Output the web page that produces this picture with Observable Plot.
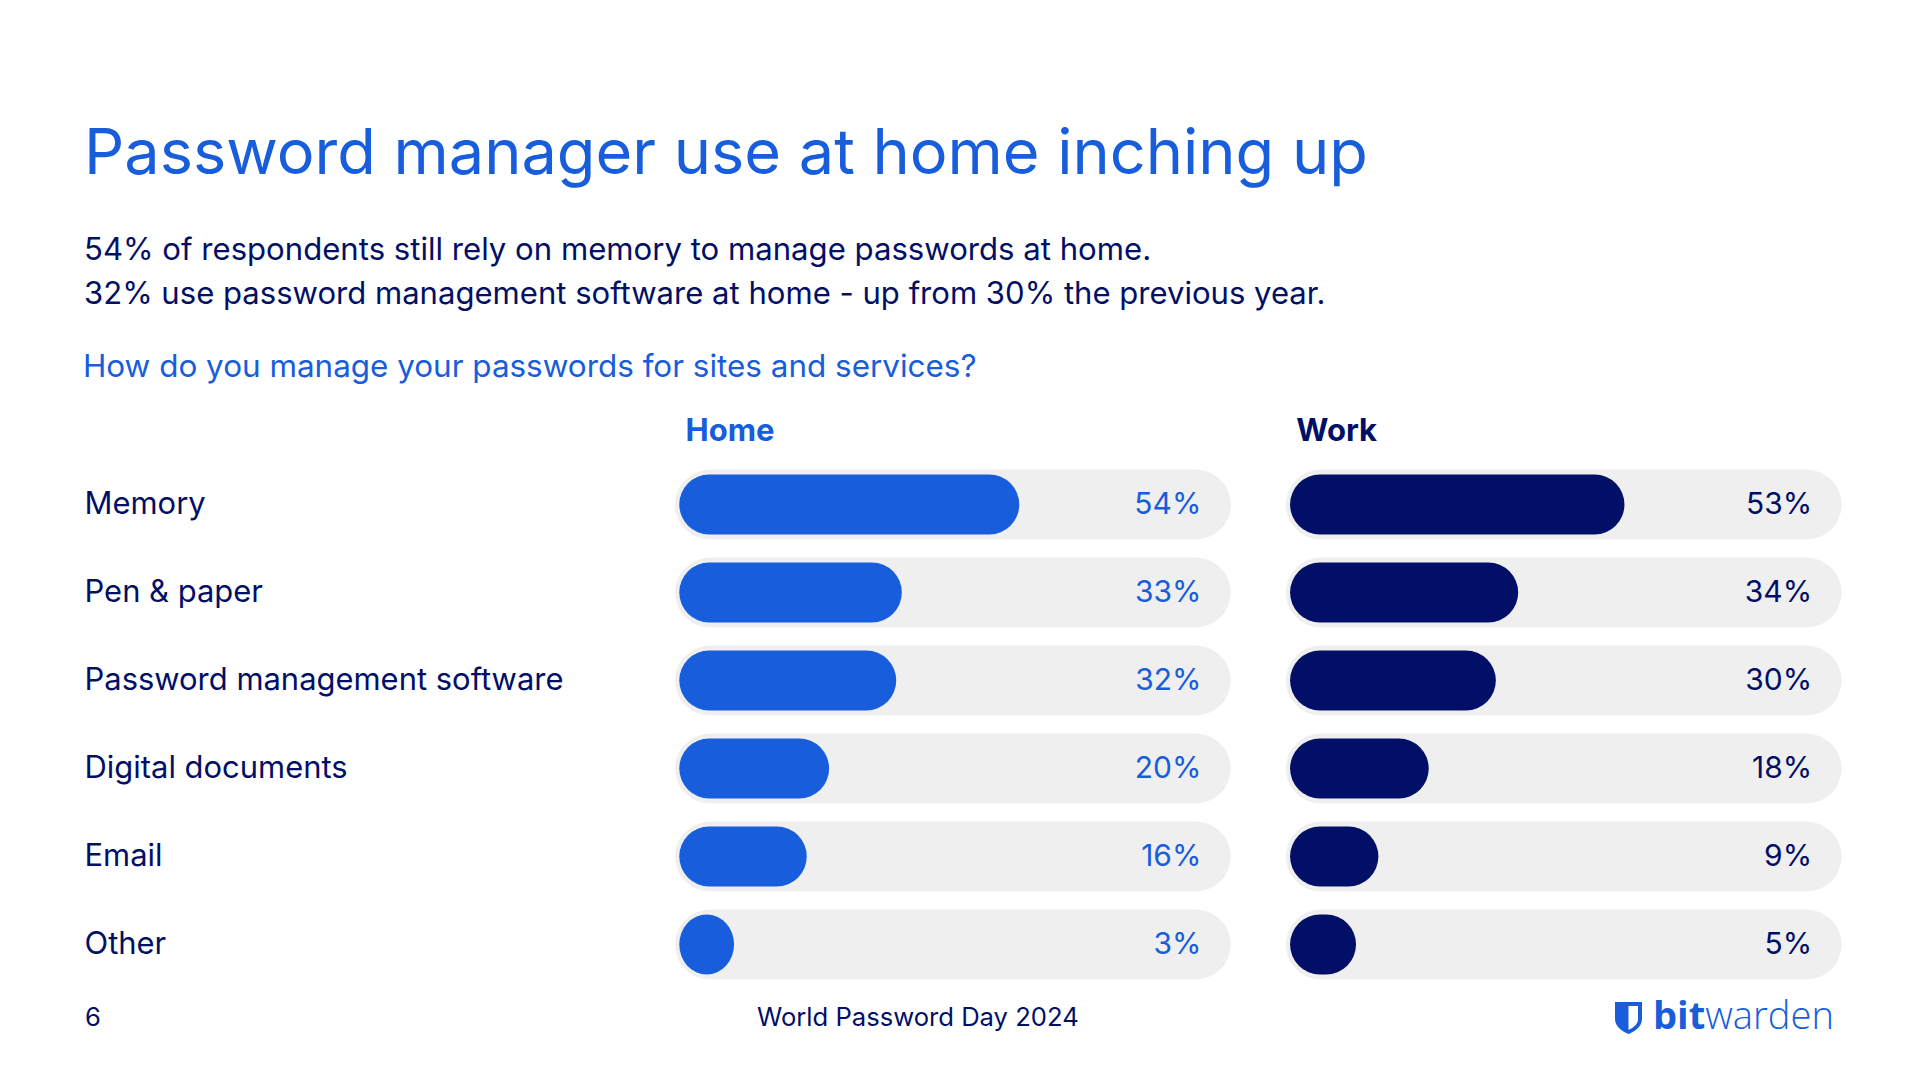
<!DOCTYPE html>
<html>
<head>
<meta charset="utf-8">
<script src="https://cdn.jsdelivr.net/npm/d3@7"></script>
<script src="https://cdn.jsdelivr.net/npm/@observablehq/plot@0.6"></script>
<style>
  html, body { margin: 0; padding: 0; background: #fff; }
  body { width: 1920px; height: 1080px; position: relative; overflow: hidden; font-family: Inter, "Noto Sans", sans-serif; }
  .t { position: absolute; white-space: nowrap; line-height: 1; }
  #chart { position: absolute; left: 0; top: 400px; }
</style>
</head>
<body>
<div id="title" class="t" style="color:#175DDC;font-weight:400;">Password manager use at home inching up</div>
<div id="sub1" class="t" style="color:#020F66;">54% of respondents still rely on memory to manage passwords at home.</div>
<div id="sub2" class="t" style="color:#020F66;">32% use password management software at home - up from 30% the previous year.</div>
<div id="question" class="t" style="color:#175DDC;">How do you manage your passwords for sites and services?</div>
<div id="chart"></div>
<div id="pagenum" class="t" style="color:#020F66;">6</div>
<div id="footer" class="t" style="color:#020F66;">World Password Day 2024</div>
<svg id="shield" width="27" height="32" viewBox="0 0 27 32" style="position:absolute;left:1615px;top:1002px;">
  <path d="M0,0 H27 V17 C27,24.5 19.5,29.5 13.5,32 C7.5,29.5 0,24.5 0,17 Z" fill="#175DDC"/>
  <path d="M13.5,4 H23 V17 C23,22.3 18.5,25.6 13.5,27.8 Z" fill="#ffffff"/>
</svg>
<div id="logo" class="t" style="color:#175DDC;font-family:'Open Sans',sans-serif;"><span style="font-weight:700">bit</span><span style="font-weight:300">warden</span></div>

<script>
// ---- data ----
const categories = ["Memory", "Pen & paper", "Password management software", "Digital documents", "Email", "Other"];
const groups = ["Home", "Work"];
const homeValues = [54, 33, 32, 20, 16, 3];
const workValues = [53, 34, 30, 18, 9, 5];

const rows = groups.flatMap(g =>
  categories.map((c, i) => ({group: g, category: c, value: (g === "Home" ? homeValues : workValues)[i]}))
);

// ---- helpers ----
function place(id, x, baseline, width, fontSize) {
  const el = document.getElementById(id);
  el.style.left = x + "px";
  el.style.top = "0px";
  if (width) {
    el.style.fontSize = "100px";
    const w = el.getBoundingClientRect().width;
    el.style.fontSize = (100 * width / w) + "px";
  } else {
    el.style.fontSize = fontSize + "px";
  }
  const m = document.createElement("span");
  m.style.cssText = "display:inline-block;width:0;height:0;vertical-align:baseline";
  el.appendChild(m);
  const b = m.getBoundingClientRect().top - el.getBoundingClientRect().top;
  el.style.top = (baseline - b) + "px";
  return parseFloat(el.style.fontSize);
}
function fitSize(text, weight, target, family) {
  const ctx = document.createElement("canvas").getContext("2d");
  ctx.font = `${weight} 100px ${family || "Inter"}`;
  return 100 * target / ctx.measureText(text).width;
}

place("title", 84, 174, 1284);
place("sub1", 84, 260, 1068);
place("sub2", 84, 304, 1242);
place("question", 83, 377, 894);
const fsFoot = place("footer", 757, 1026, 322);
place("pagenum", 85, 1026, null, fsFoot);
place("logo", 1653, 1029, 181);

// ---- chart ----
const rowFont = fitSize("Password management software", 400, 479);
const valueFont = fitSize("54%", 400, 67);
const headFont = fitSize("Home", 700, 89);

const chart = Plot.plot({
  width: 1920,
  height: 600,
  marginLeft: 675,
  marginRight: 78.4,
  marginTop: 69.5,
  marginBottom: 20.5,
  style: {fontFamily: "Inter, sans-serif", background: "transparent", overflow: "visible"},
  fx: {domain: groups, paddingInner: 0.09, paddingOuter: 0, round: false, axis: null, label: null},
  y: {domain: categories, paddingInner: 0.2045, paddingOuter: 0, round: false, label: null},
  x: {domain: [-7.56, 91.83], axis: null},
  color: {domain: groups, range: ["#175DDC", "#020F66"]},
  marks: [
    Plot.cell(rows, {fx: "group", y: "category", fill: "#EFEFEF", rx: 35}),
    Plot.barX(rows, {
      fx: "group", y: "category", x: "value", fill: "group",
      rx: 30, insetTop: 5, insetBottom: 5, insetLeft: -38
    }),
    Plot.text(rows, {
      fx: "group", y: "category", text: d => d.value + "%", fill: "group",
      frameAnchor: "right", textAnchor: "end", dx: -30, dy: -0.5, fontSize: valueFont
    }),
    Plot.text(groups, {
      fx: d => d, text: d => d, fill: d => d,
      frameAnchor: "top-left", textAnchor: "start", lineAnchor: "bottom",
      dx: 10, dy: -29.5, fontWeight: 700, fontSize: headFont
    }),
    Plot.axisY({
      tickSize: 0, tickPadding: 591, textAnchor: "start", label: null,
      fontSize: rowFont, fill: "#020F66", dy: -0.5
    })
  ]
});
document.getElementById("chart").appendChild(chart);
</script>
</body>
</html>
